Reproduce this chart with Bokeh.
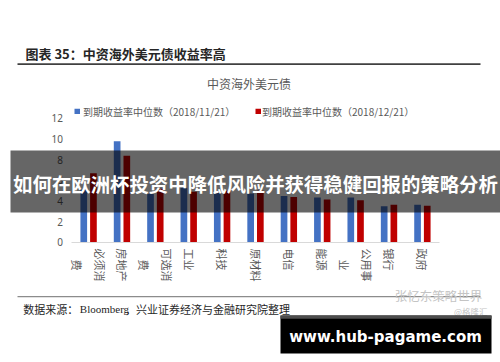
import math
from bokeh.plotting import figure
from bokeh.models import (FactorRange, Range1d, Label, BoxAnnotation, FixedTicker,
                          ColumnDataSource)
from bokeh.core.properties import value
from bokeh.transform import dodge
from bokeh.embed import file_html
from bokeh.resources import INLINE

# ---------------- data ----------------
categories = ["必须消费", "房地产", "可选消费", "工业", "科技", "原材料",
              "电信", "能源", "公用事业", "银行", "政府"]
category_labels = ["必须消\n\u3000费", "房地产", "可选消\n\u3000费", "工业", "科技", "原材料",
                   "电信", "能源", "公用事\n\u3000业", "银行", "政府"]
yield_2018_11_21 = [5.1, 9.8, 4.7, 5.3, 4.8, 4.75, 4.5, 4.35, 4.35, 3.5, 3.65]
yield_2018_12_21 = [6.7, 8.4, 5.2, 4.9, 5.0, 5.0, 4.4, 4.15, 4.1, 3.65, 3.55]
y_ticks = [0, 2, 4, 6, 8, 10, 12]
series_names = ["到期收益率中位数（2018/11/21）", "到期收益率中位数（2018/12/21）"]
series_colors = ["#4472C4", "#C00000"]

page_title = "图表 35：中资海外美元债收益率高"
chart_title = "中资海外美元债"
source_prefix = "数据来源："
source_name = "Bloomberg"
source_suffix = "，兴业证券经济与金融研究院整理"
banner_text = "如何在欧洲杯投资中降低风险并获得稳健回报的策略分析"
watermark_1 = "张忆东策略世界"
watermark_2 = "@格隆汇"
site_text = "www.hub-pagame.com"

CJK = "Noto Sans CJK SC"
GRAY = "#595959"
W, H = 500, 362
FRAME_LEFT = 10

# frame covers x 10..500, y 0..362 of the page; helpers convert page px -> frame screen units
def sx(X):
    return X - FRAME_LEFT

def sy(Y):
    return H - Y

src = ColumnDataSource(dict(cat=categories, lab=category_labels,
                            a=yield_2018_11_21, b=yield_2018_12_21,
                            zero=[0] * len(categories)))

p = figure(x_range=FactorRange(*categories, range_padding=0.3345),
           y_range=Range1d(-11.613, 23.419),
           width=W, height=H, output_backend="svg", toolbar_location=None,
           min_border_left=FRAME_LEFT, min_border_right=0,
           min_border_top=0, min_border_bottom=0)
p.outline_line_color = None
p.grid.visible = False
p.background_fill_color = "white"
p.border_fill_color = "white"

p.vbar(x=dodge("cat", -0.145, range=p.x_range), top="a", width=0.2, source=src,
       fill_color=series_colors[0], line_color=None)
p.vbar(x=dodge("cat", 0.145, range=p.x_range), top="b", width=0.2, source=src,
       fill_color=series_colors[1], line_color=None)

# y axis, drawn at the left edge of the categories
ya = p.yaxis[0]
ya.fixed_location = 0
ya.ticker = FixedTicker(ticks=y_ticks)
ya.axis_line_color = None
ya.major_tick_out = 0
ya.major_tick_in = 0
ya.minor_tick_out = 0
ya.minor_tick_in = 0
ya.major_label_standoff = 9
ya.major_label_text_font = "Noto Sans"
ya.major_label_text_font_size = "10px"
ya.major_label_text_color = GRAY

# x axis at y = 0, line limited to the category span
xa = p.xaxis[0]
xa.fixed_location = 0
xa.bounds = (0, len(categories))
xa.axis_line_color = "#d9d9d9"
xa.major_tick_out = 0
xa.major_tick_in = 0
xa.major_label_text_color = None

# vertical (clockwise) category labels, wrapped like the original
p.text(x="cat", y="zero", text="lab", source=src, angle=-math.pi / 2, y_offset=6,
       text_align="left", text_baseline="middle", text_font=value(CJK),
       text_font_size="11px", text_color=GRAY, text_line_height=1.4)

def box(x0, x1, y0, y1, color, alpha=1.0):
    b = BoxAnnotation(left=sx(x0), right=sx(x1), top=sy(y0), bottom=sy(y1),
                      left_units="screen", right_units="screen",
                      top_units="screen", bottom_units="screen",
                      fill_color=color, fill_alpha=alpha, line_color=None)
    p.add_layout(b)

def label(X, Y, text, size, color, font=CJK, align="left", style="normal"):
    p.add_layout(Label(x=sx(X), y=sy(Y), x_units="screen", y_units="screen", text=text,
                       text_font=font, text_font_size=size, text_color=color,
                       text_align=align, text_baseline="middle", text_font_style=style))

# page title + rule
label(25, 52.5, page_title, "13px", "#262626", style="bold")
box(17, 480, 62.8, 64.6, "#404040")

# chart title
label(248.5, 83, chart_title, "12px", GRAY, align="center")

# legend
box(74, 79.5, 108.3, 113.6, series_colors[0])
label(82.5, 111, series_names[0], "10px", GRAY)
box(255, 260.5, 108.3, 113.6, series_colors[1])
label(261.5, 111, series_names[1], "10px", GRAY)

# bottom rule + source
box(17, 480, 295.5, 296.8, "#8c8c8c")
label(22.7, 308.5, source_prefix, "11px", "#262626")
label(79.3, 308.5, source_name, "11px", "#262626", font="Liberation Serif")
label(124.5, 308.5, source_suffix, "11px", "#262626")
label(438, 295, watermark_1, "12.5px", "#c4c4c4", align="center")
label(487, 310, watermark_2, "8.5px", "#c4c4c4", align="right")

# dark banner over the chart
box(-20, 520, 150, 212, "#000000", 0.6)
label(255, 182.5, banner_text, "19.4px", "white", align="center", style="bold")

# site box
box(280, 491, 315, 353, "#000000")
box(280, 491, 315, 318.3, "#4d4d4d")
label(385, 336, site_text, "15px", "white", font="DejaVu Sans", align="center", style="bold")

open("out.html", "w").write(file_html(p, INLINE))
